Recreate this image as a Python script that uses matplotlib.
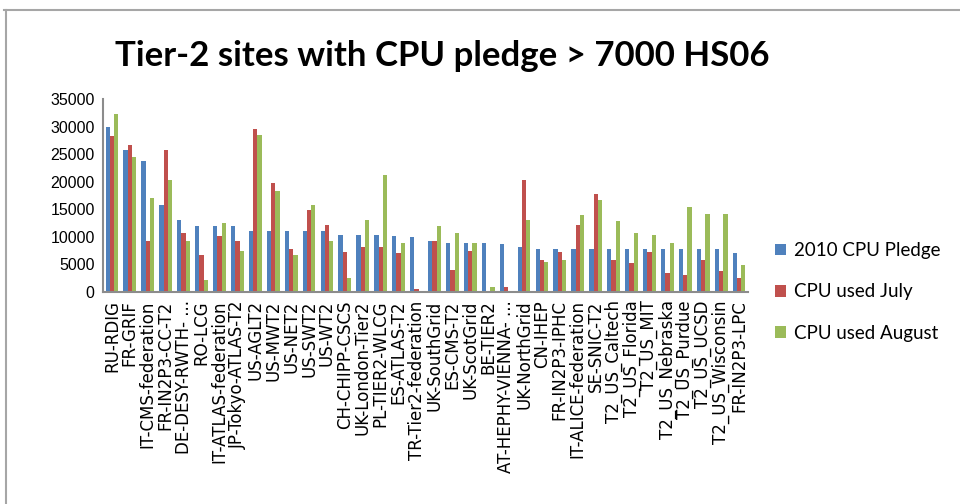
import numpy as np
import matplotlib.pyplot as plt
from matplotlib.lines import Line2D

sites = [
    "RU-RDIG", "FR-GRIF", "IT-CMS-federation", "FR-IN2P3-CC-T2", "DE-DESY-RWTH- ...",
    "RO-LCG", "IT-ATLAS-federation", "JP-Tokyo-ATLAS-T2", "US-AGLT2", "US-MWT2",
    "US-NET2", "US-SWT2", "US-WT2", "CH-CHIPP-CSCS", "UK-London-Tier2",
    "PL-TIER2-WLCG", "ES-ATLAS-T2", "TR-Tier2-federation", "UK-SouthGrid", "ES-CMS-T2",
    "UK-ScotGrid", "BE-TIER2", "AT-HEPHY-VIENNA- ...", "UK-NorthGrid", "CN-IHEP",
    "FR-IN2P3-IPHC", "IT-ALICE-federation", "SE-SNIC-T2", "T2_US_Caltech", "T2_US_Florida",
    "T2_US_MIT", "T2_US_Nebraska", "T2_US_Purdue", "T2_US_UCSD", "T2_US_Wisconsin",
    "FR-IN2P3-LPC",
]

pledge_2010 = [30000, 25800, 23800, 15700, 13000, 11900, 11900, 11900, 11000, 11000,
               11000, 11000, 11000, 10400, 10400, 10400, 10150, 9900, 9250, 8950,
               8950, 8950, 8650, 8100, 7800, 7800, 7800, 7800, 7800, 7800,
               7800, 7800, 7800, 7800, 7800, 7000]
used_july = [28200, 26700, 9300, 25800, 10700, 6700, 10200, 9300, 29600, 19800,
             7800, 14800, 12200, 7200, 8100, 8100, 7000, 550, 9250, 4000,
             7500, 250, 850, 20300, 5800, 7200, 12200, 17700, 5800, 5200,
             7200, 3450, 3150, 5800, 3750, 2550]
used_august = [32300, 24400, 17100, 20400, 9300, 2250, 12500, 7500, 28500, 18300,
               6700, 15700, 9300, 2550, 13100, 21200, 8950, 250, 11900, 10700,
               8950, 850, 250, 13100, 5500, 5800, 13900, 16600, 12800, 10700,
               10400, 8950, 15400, 14200, 14200, 4900]

series = [("2010 CPU Pledge", pledge_2010, "#4F81BD"),
          ("CPU used July", used_july, "#C0504D"),
          ("CPU used August", used_august, "#9BBB59")]

fig = plt.figure(figsize=(9.6, 5.04), dpi=100)
ax = fig.add_axes([103 / 960, 1 - 292 / 504, 645 / 960, 193 / 504])

x = np.arange(len(sites))
w = 0.24
for k, (name, vals, col) in enumerate(series):
    ax.bar(x + (k - 1) * w, vals, width=w, color=col, label=name,
           edgecolor="none")

ax.set_xlim(-0.5, len(sites) - 0.5)
ax.set_ylim(0, 35000)
ax.set_yticks(np.arange(0, 35001, 5000))
ax.set_xticks(x)
ax.set_xticklabels(sites, rotation=90, fontsize=12, family="DejaVu Sans")
for lab in ax.get_yticklabels():
    lab.set_fontsize(11.5)
    lab.set_family("Liberation Sans")
ax.tick_params(length=0, pad=6)
for s in ["top", "right"]:
    ax.spines[s].set_visible(False)
for s in ["left", "bottom"]:
    ax.spines[s].set_color("#8c8c8c")
    ax.spines[s].set_linewidth(1.5)

fig.text(0.461, 1 - 56 / 504, "Tier-2 sites with CPU pledge > 7000 HS06",
         ha="center", va="center", fontsize=25, fontweight="bold", family="Lato")

ax.legend(loc="center left", bbox_to_anchor=((758 - 103) / 645, 0.0), frameon=False,
          handlelength=0.6, handleheight=0.6, handletextpad=0.4, labelspacing=1.3,
          prop={"family": "Lato", "size": 13.5})

# chart frame
fig.add_artist(Line2D([4 / 960, 1], [1 - 10 / 504] * 2, color="#a6a6a6", lw=1.5))
fig.add_artist(Line2D([6 / 960] * 2, [0, 1 - 10 / 504], color="#a6a6a6", lw=1.5))

fig.savefig("out.png", dpi=100)
